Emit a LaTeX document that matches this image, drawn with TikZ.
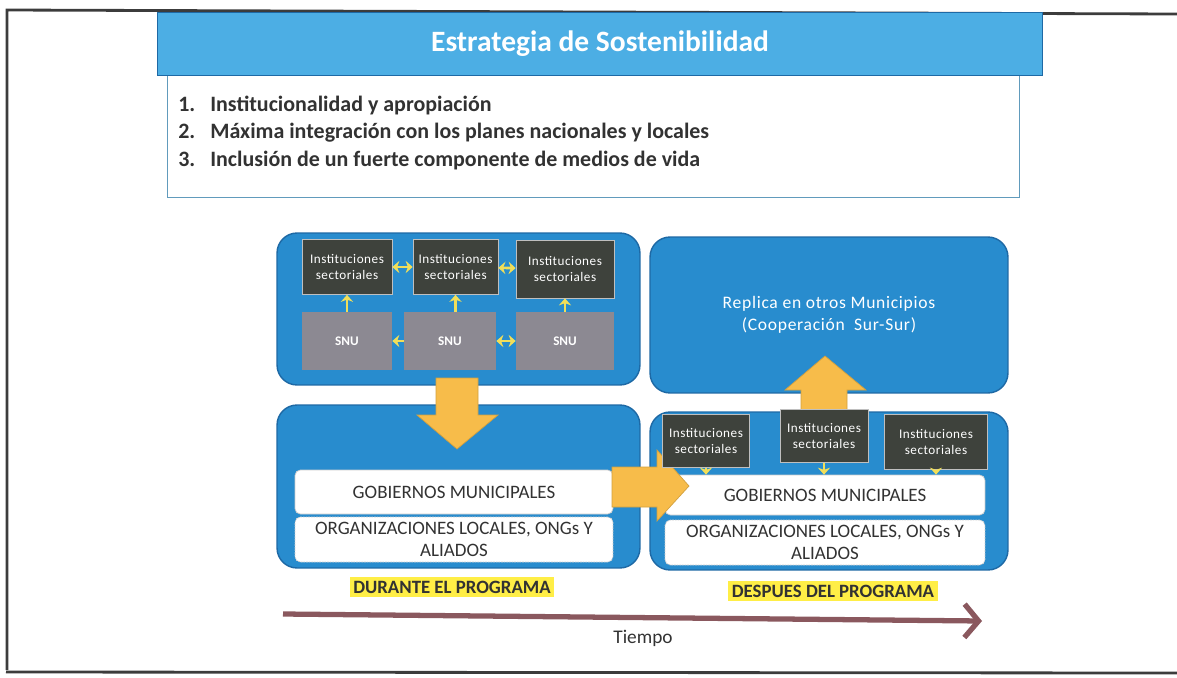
\documentclass[tikz,border=0pt]{standalone}
\usepackage{fontspec}
\setmainfont{Carlito}
\usepackage{xcolor}
\usepackage{tikz}
\usetikzlibrary{arrows.meta}

\definecolor{bannerblue}{RGB}{76,174,228}
\definecolor{panelblue}{RGB}{40,140,206}
\definecolor{paneledge}{RGB}{30,105,165}
\definecolor{instgray}{RGB}{62,66,60}
\definecolor{snugray}{RGB}{140,137,146}
\definecolor{linkyellow}{RGB}{240,222,90}
\definecolor{arrowgold}{RGB}{247,188,74}
\definecolor{hlyellow}{RGB}{255,238,70}
\definecolor{textdark}{RGB}{50,50,50}
\definecolor{timebrown}{RGB}{138,88,94}
\definecolor{framegray}{RGB}{60,60,60}

\begin{document}
\begin{tikzpicture}[x=0.02cm, y=-0.02cm,
    panel/.style={draw=paneledge, line width=0.8pt, fill=panelblue, rounded corners=0.4cm},
    inst/.style={draw=white!75!black, line width=0.4pt, fill=instgray, text=white, align=center,
        font=\fontsize{7.5}{9}\selectfont\addfontfeature{LetterSpace=4}, minimum width=1.8cm, minimum height=1.1cm, inner sep=1pt},
    snu/.style={fill=snugray, text=white, font=\bfseries\fontsize{7.5}{9}\selectfont,
        minimum width=1.8cm, minimum height=1.16cm},
    whitebox/.style={draw=gray!40, fill=white, rounded corners=3pt, text=textdark, align=center,
        font=\fontsize{10.8}{12.5}\selectfont, minimum width=6.36cm, minimum height=0.88cm, inner sep=1pt},
    link/.style={draw=linkyellow, line width=1.5pt},
    ytip/.tip={Stealth[length=4pt,width=7pt]},
    bigarrow/.style={fill=arrowgold, draw=arrowgold!85!black, line width=0.4pt},
    hl/.style={fill=hlyellow, text=textdark, font=\bfseries\fontsize{10.7}{12.5}\selectfont, inner sep=2pt},
    item/.style={anchor=west, text=textdark, font=\bfseries\fontsize{12.5}{15}\selectfont, inner sep=0pt}
]
    \useasboundingbox (0,0) rectangle (1177,677);

    % Scan frame
    \draw[framegray, line width=1.6pt] (7,670) -- (7,10) -- (1177,14);
    \draw[framegray, line width=1.6pt] (6,672) -- (1177,673);

    % Heading
    \node[draw=bannerblue!60!gray, line width=0.5pt, fill=white, minimum width=17.06cm, minimum height=2.44cm] (listbox) at (593.5,136) {};
    \node[draw=paneledge, line width=0.5pt, fill=bannerblue, text=white, font=\bfseries\fontsize{16.8}{19}\selectfont,
        minimum width=17.72cm, minimum height=1.26cm] (title) at (600,44) {Estrategia de Sostenibilidad};
    \node[item] (item1) at (178,105) {\makebox[0.64cm][l]{1.}Institucionalidad y apropiación};
    \node[item] (item2) at (178,133) {\makebox[0.64cm][l]{2.}Máxima integración con los planes nacionales y locales};
    \node[item] (item3) at (178,161) {\makebox[0.64cm][l]{3.}Inclusión de un fuerte componente de medios de vida};

    % Panels
    \node[panel, minimum width=7.26cm, minimum height=3.04cm] (durtop) at (458.5,309) {};
    \node[panel, minimum width=7.26cm, minimum height=3.26cm] (durbot) at (458.5,486.5) {};
    \node[panel, minimum width=7.16cm, minimum height=3.12cm, text=white, align=center,
        font=\fontsize{10}{12.5}\selectfont] (replica) at (829,315)
        {\addfontfeature{LetterSpace=4}Replica en otros Municipios\\\addfontfeature{LetterSpace=4}(Cooperación~ Sur-Sur)};
    \node[panel, minimum width=7.16cm, minimum height=3.16cm] (despbot) at (829,491) {};

    % Durante: instituciones and SNU
    \node[inst] (i1) at (347,267) {Instituciones\\sectoriales};
    \node[inst, minimum width=1.7cm] (i2) at (455.5,267) {Instituciones\\sectoriales};
    \node[inst, minimum width=1.96cm, minimum height=1.16cm] (i3) at (565,269) {Instituciones\\sectoriales};
    \node[snu] (s1) at (347,341) {SNU};
    \node[snu, minimum width=1.84cm] (s2) at (450,341) {SNU};
    \node[snu, minimum width=1.96cm] (s3) at (565,341) {SNU};

    \draw[link, ytip-ytip] (i1) -- (i2);
    \draw[link, ytip-ytip] (i2) -- (i3);
    \draw[link, -ytip] (s1) -- (i1);
    \draw[link, -ytip] (s2.north -| i2) -- (i2);
    \draw[link, -ytip] (s3) -- (i3);
    \draw[link, -ytip] (s2) -- (s1);
    \draw[link, ytip-ytip] (s2) -- (s3);

    % Down arrow
    \draw[bigarrow] (436,378) -- (478,378) -- (478,415) -- (498,415) -- (457,449) -- (417,415) -- (436,415) -- cycle;

    % Durante: local actors
    \node[whitebox] (gobL) at (454,492) {GOBIERNOS MUNICIPALES};
    \node[whitebox, minimum height=0.9cm, dashed, dash pattern=on 1pt off 0.5pt] (orgL) at (454,539.5) {ORGANIZACIONES LOCALES, ONGs Y\\ALIADOS};

    % Despues: local actors
    \node[whitebox, minimum width=6.4cm, minimum height=0.8cm] (gobR) at (825,495) {GOBIERNOS MUNICIPALES};
    \node[whitebox, minimum width=6.4cm, minimum height=0.9cm, dashed, dash pattern=on 1pt off 0.5pt] (orgR) at (825,542.5) {ORGANIZACIONES LOCALES, ONGs Y\\ALIADOS};

    % Up and right arrows
    \draw[bigarrow] (801,414) -- (801,390) -- (785,390) -- (825,356) -- (866,390) -- (847,390) -- (847,414) -- cycle;
    \draw[bigarrow] (612,467) -- (657,467) -- (657,450) -- (689,486) -- (657,521) -- (657,507) -- (612,507) -- cycle;

    % Despues: instituciones
    \node[inst, minimum width=1.74cm, minimum height=1.06cm] (ra) at (706,441) {Instituciones\\sectoriales};
    \node[inst, minimum width=1.76cm, minimum height=1.06cm] (rb) at (824,436) {Instituciones\\sectoriales};
    \node[inst, minimum width=2.06cm, minimum height=1.1cm] (rc) at (936,442) {Instituciones\\sectoriales};
    \draw[link, line width=0.8pt, -ytip] (ra) -- (ra |- gobR.north);
    \draw[link, line width=0.8pt, -ytip] (rb) -- (rb |- gobR.north);
    \draw[link, line width=0.8pt, -ytip] (rc) -- (rc |- gobR.north);

    % Phase labels
    \node[hl] (durante) at (452,587) {DURANTE EL PROGRAMA};
    \node[hl] (despues) at (833,591) {DESPUES DEL PROGRAMA};

    % Time axis
    \coordinate (t0) at (283,614);
    \coordinate (t1) at (982,621);
    \draw[timebrown, line width=3pt, -{Straight Barb[length=8pt,width=19pt,line width=3pt]}] (t0) -- (t1);
    \node[text=textdark, font=\fontsize{11}{13}\selectfont] (tiempo) at (643,638) {Tiempo};
\end{tikzpicture}
\end{document}
